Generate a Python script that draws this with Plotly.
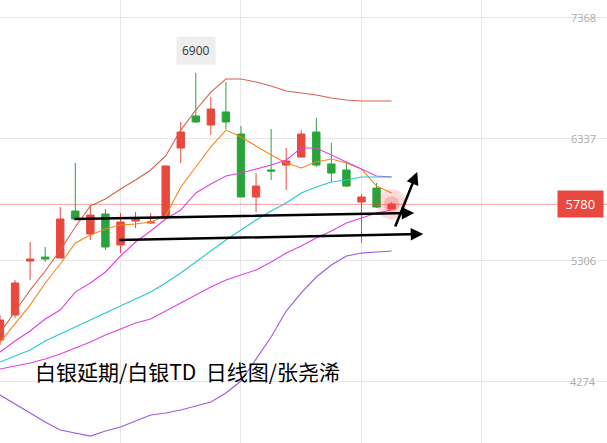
import plotly.graph_objects as go

# --- data (index = trading day) ---
days = list(range(27))
opens = [4624, 4837, 5297, 5331, 5323, 5723, 5527, 5698, 5434, 5638, 5621, 5664, 6260, 6533,
         6456, 6567, 6379, 5843, 6073, 6115, 6183, 6396, 6124, 6073, 5800, 5919, 5740]
highs = [4837, 5135, 5459, 5417, 5757, 6132, 5774, 5740, 5706, 5715, 5706, 6107, 6482, 6900,
         6695, 6822, 6447, 6047, 6422, 6260, 6413, 6516, 6303, 6132, 5868, 5962, 5800]
lows = [4582, 4812, 5135, 5289, 5323, 5647, 5476, 5391, 5365, 5578, 5613, 5664, 6132, 6473,
        6371, 6422, 5843, 5715, 5987, 5902, 6183, 6098, 5970, 5928, 5451, 5749, 5740]
closes = [4795, 5110, 5314, 5314, 5655, 5655, 5689, 5417, 5630, 5664, 5630, 6107, 6396, 6482,
          6592, 6482, 5843, 5936, 6064, 6149, 6379, 6115, 6047, 5936, 5843, 5757, 5783]

ma5 = [4607, 4769, 4922, 5110, 5272, 5451, 5519, 5570, 5604, 5613, 5630, 5681, 5928, 6098,
       6269, 6413, 6354, 6277, 6200, 6132, 6090, 6141, 6166, 6132, 6081, 5936, 5877]
ma10 = [4522, 4616, 4701, 4803, 4880, 5033, 5110, 5204, 5340, 5459, 5553, 5655, 5732, 5877,
        5953, 6022, 6047, 6081, 6115, 6158, 6260, 6260, 6200, 6141, 6081, 6022, 6013]
ma20 = [4437, 4488, 4539, 4616, 4675, 4735, 4795, 4854, 4914, 4973, 5033, 5110, 5195, 5289,
        5383, 5476, 5561, 5647, 5723, 5791, 5877, 5928, 5970, 5987, 6013, 6013, 6013]
ma30 = [4377, 4403, 4428, 4462, 4505, 4556, 4607, 4667, 4718, 4769, 4803, 4871, 4939, 5008,
        5076, 5135, 5178, 5221, 5289, 5365, 5425, 5493, 5553, 5621, 5664, 5706, 5732]
boll_up = [4684, 4863, 5050, 5212, 5391, 5587, 5766, 5826, 5911, 5987, 6073, 6192, 6413, 6584,
           6737, 6848, 6848, 6822, 6788, 6746, 6729, 6712, 6686, 6669, 6661, 6661, 6661]
boll_dn = [4156, 4079, 4002, 3926, 3857, 3832, 3806, 3849, 3883, 3934, 3985, 4002, 4028, 4062,
           4096, 4173, 4275, 4462, 4650, 4871, 5025, 5161, 5263, 5340, 5365, 5374, 5383]

y_ticks = [7368, 6337, 5306, 4274]
last_price = 5780
peak_price = 6900
peak_day = 13

# hand-drawn arrows: (x0, y0, x1, y1)
arrows = [(4.84, 5655, 27.5, 5706), (7.83, 5476, 28.1, 5527), (26.2, 5578, 27.7, 6056)]

RED = "#e8483d"
GREEN = "#2ba33b"

fig = go.Figure()

for vals, col in [(boll_up, "#d4634a"), (ma5, "#f5871f"), (ma10, "#e040e0"),
                  (ma20, "#27c8d0"), (ma30, "#e040e0"), (boll_dn, "#9b5be0")]:
    fig.add_trace(go.Scatter(x=days, y=vals, mode="lines", line=dict(color=col, width=1.1),
                             hoverinfo="skip"))

fig.add_trace(go.Candlestick(
    x=days, open=opens, high=highs, low=lows, close=closes,
    increasing=dict(line=dict(color=RED, width=1), fillcolor=RED),
    decreasing=dict(line=dict(color=GREEN, width=1), fillcolor=GREEN),
    whiskerwidth=0,
))

# glow on the latest candle
fig.add_trace(go.Scatter(x=[days[-1]], y=[last_price], mode="markers",
                         marker=dict(size=30, color="rgba(240,60,60,0.18)"), hoverinfo="skip"))
fig.add_trace(go.Scatter(x=[days[-1]], y=[last_price], mode="markers",
                         marker=dict(size=16, color="rgba(240,60,60,0.25)"), hoverinfo="skip"))

# last price line
fig.add_hline(y=last_price, line=dict(color="rgba(232,72,61,0.5)", width=1))

for x0, y0, x1, y1 in arrows:
    fig.add_annotation(x=x1, y=y1, ax=x0, ay=y0, xref="x", yref="y", axref="x", ayref="y",
                       text="", showarrow=True, arrowhead=2, arrowsize=1, arrowwidth=2.5,
                       arrowcolor="black")

for t in y_ticks:
    fig.add_annotation(x=0.985, xref="paper", y=t, yref="y", text=str(t), showarrow=False,
                       xanchor="right", font=dict(size=11, color="#aaaaaa"))

fig.add_annotation(x=0.995, xref="paper", y=last_price, yref="y", text=" 5780 ",
                   showarrow=False, xanchor="right", bgcolor=RED, borderpad=4,
                   font=dict(size=13, color="white"))
fig.add_annotation(x=peak_day, y=peak_price, text="6900", showarrow=False, yshift=22,
                   bgcolor="#eeeeee", borderpad=5, font=dict(size=12, color="#333333"))

fig.add_annotation(x=0.055, xref="paper", y=0.125, yref="paper", text="白银延期/白银TD  日线图/张尧浠",
                   showarrow=False, xanchor="left",
                   font=dict(size=21, color="black", family="Noto Sans CJK SC"))

fig.update_layout(
    width=607, height=443, margin=dict(l=0, r=0, t=0, b=0),
    paper_bgcolor="white", plot_bgcolor="white", showlegend=False,
    xaxis=dict(range=[0, 40.3], showticklabels=False, rangeslider=dict(visible=False),
               tickvals=[8, 16, 24, 32], showgrid=True, gridcolor="#e6e6e6", zeroline=False),
    yaxis=dict(range=[3747, 7521], showticklabels=False, tickvals=y_ticks,
               showgrid=True, gridcolor="#e6e6e6", zeroline=False),
)

fig.write_html("out.html", config={"displayModeBar": False},
               post_script="document.body.style.margin='0';")
